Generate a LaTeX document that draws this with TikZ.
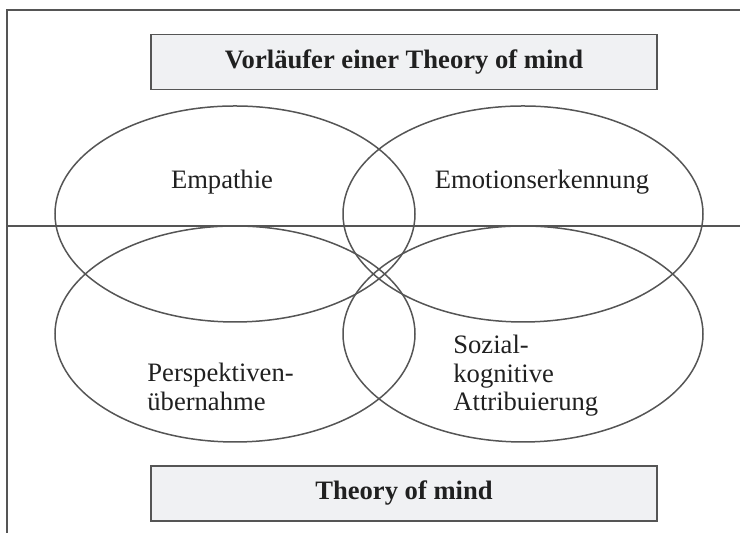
\documentclass[tikz,border=0pt]{standalone}
\usepackage{fontspec}
\setmainfont{Liberation Serif}
\usepackage{tikz}
\usetikzlibrary{shapes.geometric}

\definecolor{rahmen}{HTML}{555555}
\definecolor{kasten}{HTML}{F0F1F3}
\definecolor{schrift}{HTML}{202020}

\tikzset{
  linie/.style={draw=rahmen, line width=0.75pt},
  titelbox/.style={linie, fill=kasten, minimum width=253pt, minimum height=27.5pt, inner sep=0pt,
    font=\fontsize{13.3}{14.3}\selectfont\bfseries, text=schrift},
  kreis/.style={linie, ellipse, minimum width=180pt, minimum height=108pt, inner sep=0pt},
  beschr/.style={font=\fontsize{13.3}{14.3}\selectfont, text=schrift, inner sep=0pt}
}

\begin{document}
\begin{tikzpicture}[x=0.5pt, y=0.5pt]
    \useasboundingbox (0,0) rectangle (740,533);
    \draw[linie] (740,523) -- (7,523) -- (7,0);
    \draw[linie] (7,307) -- (740,307);
    \node[titelbox] (vorlaeufer) at (404,471) {Vorläufer einer Theory of mind};
    \node[titelbox] (tom) at (404,39.5) {Theory of mind};
    \node[kreis] (empathie) at (235,319) {};
    \node[kreis] (emotion) at (523,319) {};
    \node[kreis] (perspektive) at (235,199) {};
    \node[kreis] (sozial) at (523,199) {};
    \node[beschr] (t-empathie) at (222,351) {Empathie};
    \node[beschr] (t-emotion) at (542,351) {Emotionserkennung};
    \node[beschr, anchor=west, align=left] (t-perspektive) at (147,146) {Perspektiven-\\übernahme};
    \node[beschr, anchor=west, align=left] (t-sozial) at (453,157) {Sozial-\\kognitive\\Attribuierung};
  \end{tikzpicture}
\end{document}
